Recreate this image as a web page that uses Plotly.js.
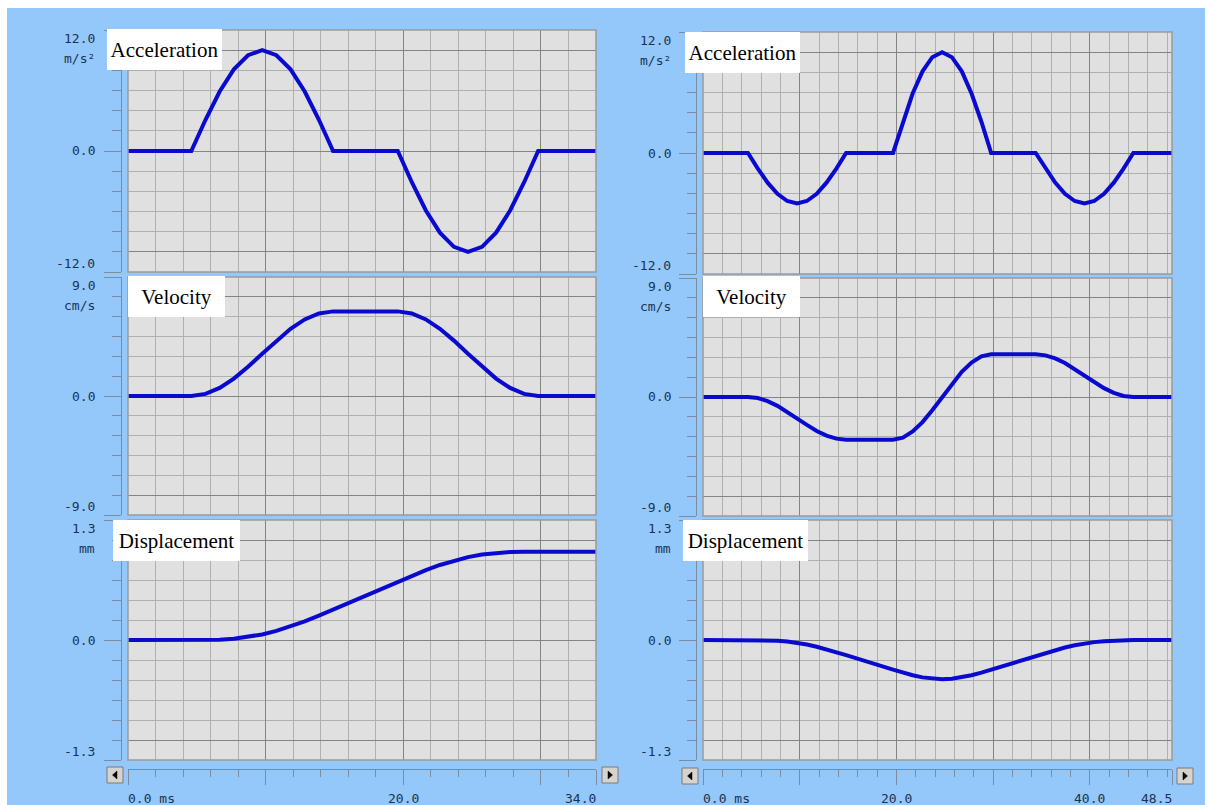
<!DOCTYPE html>
<html>
<head>
<meta charset="utf-8">
<script src="https://cdn.plot.ly/plotly-3.0.1.min.js"></script>
<style>html,body{margin:0;padding:0;background:#fff;}#chart{width:1208px;height:805px;}</style>
</head>
<body>
<div id="chart"></div>
<script>
// ---------- data ----------
// left case: time in ms
const leftTime = [0, 4.6, 5.63, 6.66, 7.69, 8.72, 9.75, 10.78, 11.81, 12.84, 13.87, 14.9,
                  19.6, 20.62, 21.64, 22.66, 23.68, 24.7, 25.72, 26.74, 27.76, 28.78, 29.8, 34];
const leftAcc  = [0, 0, 3.1, 5.9, 8.1, 9.5, 10, 9.5, 8.1, 5.9, 3.1, 0,
                  0, -3.1, -5.9, -8.1, -9.5, -10, -9.5, -8.1, -5.9, -3.1, 0, 0];
const leftVel  = [0, 0, 0.16, 0.61, 1.32, 2.21, 3.2, 4.19, 5.08, 5.79, 6.24, 6.4,
                  6.4, 6.24, 5.79, 5.08, 4.19, 3.2, 2.21, 1.32, 0.61, 0.16, 0, 0];
const leftDisp = [0, 0, 0.0005, 0.004, 0.014, 0.032, 0.06, 0.098, 0.146, 0.202, 0.264, 0.33,
                  0.631, 0.696, 0.757, 0.813, 0.86, 0.898, 0.926, 0.944, 0.953, 0.957, 0.957, 0.957];

// right case
const rightTime = [0, 4.65, 5.67, 6.68, 7.7, 8.71, 9.73, 10.74, 11.76, 12.77, 13.79, 14.8,
                   19.65, 20.67, 21.68, 22.7, 23.71, 24.73, 25.74, 26.76, 27.77, 28.79, 29.8,
                   34.4, 35.41, 36.42, 37.43, 38.44, 39.45, 40.46, 41.47, 42.48, 43.49, 44.5, 48.5];
const rightAcc  = [0, 0, -1.55, -2.94, -4.05, -4.76, -5, -4.76, -4.05, -2.94, -1.55, 0,
                   0, 3.1, 5.9, 8.1, 9.5, 10, 9.5, 8.1, 5.9, 3.1, 0,
                   0, -1.55, -2.94, -4.05, -4.76, -5, -4.76, -4.05, -2.94, -1.55, 0, 0];
const rightVel  = [0, 0, -0.08, -0.31, -0.67, -1.12, -1.62, -2.11, -2.57, -2.92, -3.15, -3.23,
                   -3.23, -3.07, -2.61, -1.9, -1.0, 0, 1.0, 1.9, 2.61, 3.07, 3.23,
                   3.23, 3.15, 2.92, 2.57, 2.11, 1.62, 1.12, 0.67, 0.31, 0.08, 0, 0];
const rightDisp = [0, 0, -0.0003, -0.002, -0.007, -0.016, -0.03, -0.049, -0.073, -0.1, -0.131, -0.164,
                   -0.321, -0.353, -0.382, -0.405, -0.42, -0.425, -0.42, -0.405, -0.382, -0.353, -0.321,
                   -0.172, -0.14, -0.109, -0.081, -0.057, -0.037, -0.023, -0.013, -0.006, -0.002, 0, 0];

const panelNames = ['Acceleration', 'Velocity', 'Displacement'];
const panelUnits = ['m/s²', 'cm/s', 'mm'];
const panelLimits = [12, 9, 1.3];
const panelTopLabels = ['12.0', '9.0', '1.3'];
const panelBottomLabels = ['-12.0', '-9.0', '-1.3'];
const panelZeroLabels = ['0.0', '0.0', '0.0'];
const leftXMax = 34, rightXMax = 48.5;
const leftXTickVals = [0, 20, 34];
const leftXTickText = ['0.0 ms', '20.0', '34.0'];
const rightXTickVals = [0, 20, 40, 48.5];
const rightXTickText = ['0.0 ms', '20.0', '40.0', '48.5'];

// ---------- layout geometry (pixels) ----------
const W = 1208, H = 805;
const px = v => v / W;
const py = v => 1 - v / H;

const BG = '#94c8fa', PLOTBG = '#e0e0e0', MAJ = '#848484', MIN = '#b0b0b0';
const TICKC = '#7b8ca0', LABC = '#1a3352', CURVE = '#0a0acf';
const monoFont = {family: 'DejaVu Sans Mono, Liberation Mono, monospace', size: 13, color: LABC};
const serifFont = {family: 'Liberation Serif, Times New Roman, serif', size: 21, color: '#000'};

const cols = [
  {x0: 128, x1: 596, axisX: 121, labelX: 97, xmax: leftXMax, time: leftTime,
   series: [leftAcc, leftVel, leftDisp],
   rows: [[30, 272], [277, 515], [520, 760]],
   boxes: [[107, 222, 29, 70], [128, 225, 276, 317], [113, 240, 520, 561]],
   xtv: leftXTickVals, xtt: leftXTickText,
   btnL: [107, 123, 767, 783], btnR: [602, 618, 767, 783]},
  {x0: 703, x1: 1172, axisX: 696, labelX: 673, xmax: rightXMax, time: rightTime,
   series: [rightAcc, rightVel, rightDisp],
   rows: [[32, 274], [278, 516], [520, 760]],
   boxes: [[685, 800, 32, 73], [703, 800, 276, 317], [683, 808, 520, 561]],
   xtv: rightXTickVals, xtt: rightXTickText,
   btnL: [682, 698, 768, 784], btnR: [1177, 1193, 768, 784]}
];

const traces = [];
const layout = {
  width: W, height: H,
  margin: {l: 0, r: 0, t: 0, b: 0},
  paper_bgcolor: BG, plot_bgcolor: PLOTBG,
  showlegend: false,
  shapes: [], annotations: []
};

const scaleY = 769;

cols.forEach((c, ci) => {
  const xName = ci === 0 ? 'x' : 'x2';
  const xKey = ci === 0 ? 'xaxis' : 'xaxis2';
  const bottomY = 'y' + (ci * 3 + 3);
  layout[xKey] = {
    domain: [px(c.x0), px(c.x1)], range: [0, c.xmax], anchor: bottomY,
    tickmode: 'linear', tick0: 0, dtick: 10, ticks: '', showticklabels: false,
    showgrid: true, gridcolor: MAJ, gridwidth: 1, zeroline: false, showline: false,
    minor: {tickmode: 'linear', tick0: 0, dtick: 2, showgrid: true, gridcolor: MIN, gridwidth: 1},
    fixedrange: true
  };
  // bottom scale axis
  const sKey = ci === 0 ? 'xaxis3' : 'xaxis4';
  const sName = ci === 0 ? 'x3' : 'x4';
  layout[sKey] = {
    overlaying: xName, anchor: 'free', position: py(scaleY), side: 'bottom',
    range: [0, c.xmax], showgrid: false, zeroline: false,
    showline: true, linecolor: TICKC, linewidth: 1,
    tickmode: 'array', tickvals: [0, 10, 20, 30, 40, c.xmax].filter(v => v <= c.xmax),
    ticks: 'outside', ticklen: 15, tickcolor: TICKC, tickwidth: 1, showticklabels: false,
    minor: {tickmode: 'linear', tick0: 0, dtick: 2, ticks: 'outside', ticklen: 7, tickcolor: TICKC, tickwidth: 1},
    fixedrange: true
  };
  traces.push({x: [null], y: [null], xaxis: sName, yaxis: bottomY, mode: 'lines', hoverinfo: 'skip', showlegend: false});

  for (let r = 0; r < 3; r++) {
    const n = ci * 3 + r + 1;
    const yName = 'y' + n;
    const yKey = n === 1 ? 'yaxis' : 'yaxis' + n;
    const R = panelLimits[r];
    const step = R / 6;
    const [t, b] = c.rows[r];
    layout[yKey] = {
      domain: [py(b), py(t)], range: [-R, R], anchor: xName,
      tickmode: 'array', tickvals: [-5 * step, 0, 5 * step], ticks: '', showticklabels: false,
      showgrid: true, gridcolor: MAJ, gridwidth: 1, zeroline: false, showline: false,
      minor: {tickmode: 'linear', tick0: 0, dtick: step, showgrid: true, gridcolor: MIN, gridwidth: 1},
      fixedrange: true
    };
    // free axis carrying the ticks at the left
    const fn = n + 6;
    layout['yaxis' + fn] = {
      overlaying: yName, anchor: 'free', position: px(c.axisX), side: 'left',
      range: [-R, R], showgrid: false, zeroline: false,
      showline: true, linecolor: TICKC, linewidth: 1,
      tickmode: 'array', tickvals: [-R, 0, R], ticks: 'outside', ticklen: 17,
      tickcolor: TICKC, tickwidth: 1, showticklabels: false,
      minor: {tickmode: 'linear', tick0: 0, dtick: step, ticks: 'outside', ticklen: 9, tickcolor: TICKC, tickwidth: 1},
      fixedrange: true
    };
    traces.push({x: [null], y: [null], xaxis: xName, yaxis: 'y' + fn, mode: 'lines', hoverinfo: 'skip', showlegend: false});

    // curve
    traces.push({
      x: c.time, y: c.series[r], xaxis: xName, yaxis: yName,
      mode: 'lines', line: {color: CURVE, width: 4}, hoverinfo: 'skip', showlegend: false
    });

    // plot border
    layout.shapes.push({type: 'rect', xref: xName + ' domain', yref: yName + ' domain',
      x0: 0, x1: 1, y0: 0, y1: 1, line: {color: '#9a9a9a', width: 1.5}, fillcolor: 'rgba(0,0,0,0)'});

    // y labels
    layout.annotations.push({xref: 'paper', yref: yName, x: px(c.labelX), y: R, xanchor: 'right', yanchor: 'top',
      text: panelTopLabels[r], showarrow: false, font: monoFont, yshift: 1});
    layout.annotations.push({xref: 'paper', yref: yName, x: px(c.labelX), y: R, xanchor: 'right', yanchor: 'top',
      text: panelUnits[r], showarrow: false, font: monoFont, yshift: -19});
    layout.annotations.push({xref: 'paper', yref: yName, x: px(c.labelX), y: 0, xanchor: 'right', yanchor: 'middle',
      text: panelZeroLabels[r], showarrow: false, font: monoFont});
    layout.annotations.push({xref: 'paper', yref: yName, x: px(c.labelX), y: -R, xanchor: 'right', yanchor: 'bottom',
      text: panelBottomLabels[r], showarrow: false, font: monoFont, yshift: -1});

    // name box
    const [bx0, bx1, by0, by1] = c.boxes[r];
    layout.annotations.push({xref: 'paper', yref: 'paper', x: px(bx0), y: py(by0), xanchor: 'left', yanchor: 'top',
      width: bx1 - bx0, height: by1 - by0, text: panelNames[r], showarrow: false,
      bgcolor: '#ffffff', borderpad: 0, borderwidth: 0, align: 'center', valign: 'middle', font: serifFont});
  }

  // x labels under the scale
  c.xtv.forEach((v, i) => {
    const anchor = i === 0 ? 'left' : (v === c.xmax ? 'right' : 'center');
    layout.annotations.push({xref: xName, yref: 'paper', x: v, y: py(798), xanchor: anchor, yanchor: 'middle',
      text: c.xtt[i], showarrow: false, font: monoFont, xshift: i === 0 ? -2 : (anchor === 'right' ? 2 : 0)});
  });

  // scroll buttons
  [[c.btnL, -1], [c.btnR, 1]].forEach(([bb, dir]) => {
    const [x0, x1, y0, y1] = bb;
    layout.shapes.push({type: 'rect', xref: 'paper', yref: 'paper', x0: px(x0), x1: px(x1), y0: py(y1), y1: py(y0),
      fillcolor: '#d6d3ce', line: {color: '#7a7a7a', width: 1}});
    const cx = (x0 + x1) / 2, cy = (y0 + y1) / 2;
    const tip = cx + dir * 2.5, base = cx - dir * 2;
    layout.shapes.push({type: 'path', xref: 'paper', yref: 'paper',
      path: `M ${px(base)} ${py(cy - 4)} L ${px(tip)} ${py(cy)} L ${px(base)} ${py(cy + 4)} Z`,
      fillcolor: '#000', line: {color: '#000', width: 0.5}});
  });
});

// white page margins around the blue frame
layout.shapes.push({type: 'rect', xref: 'paper', yref: 'paper', x0: 0, x1: 1, y0: py(8), y1: 1, fillcolor: '#fff', line: {width: 0}});
layout.shapes.push({type: 'rect', xref: 'paper', yref: 'paper', x0: 0, x1: px(7), y0: 0, y1: 1, fillcolor: '#fff', line: {width: 0}});
layout.shapes.push({type: 'rect', xref: 'paper', yref: 'paper', x0: px(1205), x1: 1, y0: 0, y1: 1, fillcolor: '#fff', line: {width: 0}});

Plotly.newPlot('chart', traces, layout, {displayModeBar: false, staticPlot: true});
</script>
</body>
</html>
